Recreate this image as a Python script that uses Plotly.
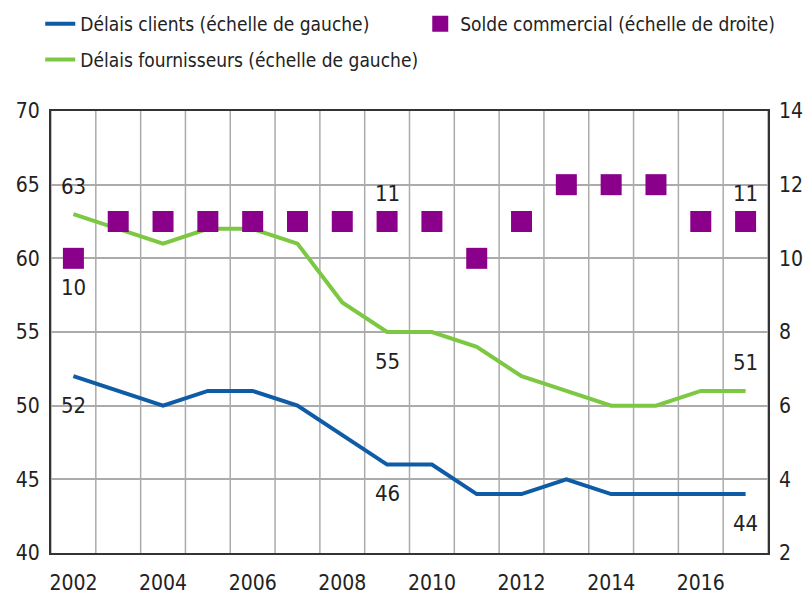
import plotly.graph_objects as go

years = list(range(2002, 2018))
delais_clients = [52, 51, 50, 51, 51, 50, 48, 46, 46, 44, 44, 45, 44, 44, 44, 44]
delais_fournisseurs = [63, 62, 61, 62, 62, 61, 57, 55, 55, 54, 52, 51, 50, 50, 51, 51]
solde_commercial = [10, 11, 11, 11, 11, 11, 11, 11, 11, 10, 11, 12, 12, 12, 11, 11]

label_years = [2002, 2009, 2017]
clients_side = {2002: "below", 2009: "below", 2017: "below"}
fourn_side = {2002: "above", 2009: "below", 2017: "above"}
solde_side = {2002: "below", 2009: "above", 2017: "above"}

xtick_vals = list(range(2002, 2017, 2))
ytick_left = [40, 45, 50, 55, 60, 65, 70]
ytick_right = [2, 4, 6, 8, 10, 12, 14]

FONT = "DejaVu Sans Condensed, Roboto, sans-serif"
BLUE = "#0f5ca6"
GREEN = "#7cc843"
PURPLE = "#8b008b"
GRID = "#ababab"
TXT = "#222222"

W, H = 805, 597
ML, MR, MT, MB = 51, 37, 111, 44
x_lo, x_hi = years[0] - 0.5, years[-1] + 0.5
boundaries = [y - 0.5 for y in years] + [x_hi]

fig = go.Figure()
fig.add_trace(go.Scatter(
    x=years, y=delais_clients, mode="lines", name="Délais clients (échelle de gauche)",
    line=dict(color=BLUE, width=4), legend="legend", legendgroup="a"))
fig.add_trace(go.Scatter(
    x=years, y=delais_fournisseurs, mode="lines", name="Délais fournisseurs (échelle de gauche)",
    line=dict(color=GREEN, width=4), legend="legend", legendgroup="b"))
fig.add_trace(go.Scatter(
    x=years, y=solde_commercial, mode="markers", name="Solde commercial (échelle de droite)",
    marker=dict(symbol="square", size=21, color=PURPLE, line=dict(width=0)),
    yaxis="y2", legend="legend2"))

# vertical grid lines at year boundaries
for b in boundaries:
    fig.add_shape(type="line", xref="x", yref="y", x0=b, x1=b, y0=ytick_left[0], y1=ytick_left[-1],
                  line=dict(color=GRID, width=1.5), layer="below")


def add_labels(vals, side, yref):
    for yr, v in zip(years, vals):
        if yr in label_years:
            fig.add_annotation(x=yr, y=v, xref="x", yref=yref, text=str(v), showarrow=False,
                               yshift=28 if side[yr] == "above" else -29,
                               font=dict(family=FONT, size=22, color=TXT))


add_labels(delais_clients, clients_side, "y")
add_labels(delais_fournisseurs, fourn_side, "y")
add_labels(solde_commercial, solde_side, "y2")

fig.update_layout(
    width=W, height=H,
    margin=dict(l=ML, r=MR, t=MT, b=MB, autoexpand=False),
    paper_bgcolor="white", plot_bgcolor="rgba(0,0,0,0)",
    font=dict(family=FONT, size=20, color=TXT),
    xaxis=dict(
        range=[x_lo, x_hi], tickmode="array", tickvals=xtick_vals,
        ticktext=[str(v) for v in xtick_vals], showgrid=False, ticks="",
        showline=True, linecolor="#333333", linewidth=2, mirror=True, ticklabelstandoff=10,
        tickfont=dict(family=FONT, size=21, color=TXT), zeroline=False),
    yaxis=dict(
        range=[ytick_left[0], ytick_left[-1]], tickmode="array", tickvals=ytick_left,
        showgrid=True, gridcolor=GRID, gridwidth=1.5, showline=True, linecolor="#333333",
        linewidth=2, mirror=True, ticklabelstandoff=5,
        tickfont=dict(family=FONT, size=21, color=TXT), zeroline=False, ticks=""),
    yaxis2=dict(
        range=[ytick_right[0], ytick_right[-1]], tickmode="array", tickvals=ytick_right,
        overlaying="y", side="right", showgrid=False, ticklabelstandoff=10,
        tickfont=dict(family=FONT, size=21, color=TXT), zeroline=False, ticks=""),
    legend=dict(x=-0.015, y=1.24, xanchor="left", yanchor="top",
                orientation="v", font=dict(family=FONT, size=19, color=TXT), bgcolor="rgba(0,0,0,0)",
                traceorder="grouped", tracegroupgap=8),
    legend2=dict(x=0.515, y=1.24, xanchor="left", yanchor="top",
                 orientation="v", font=dict(family=FONT, size=19, color=TXT), bgcolor="rgba(0,0,0,0)"),
    showlegend=True,
)

fig.write_html("out.html", config={"displayModeBar": False},
               post_script="document.body.style.margin='0';document.body.style.overflow='hidden';")
